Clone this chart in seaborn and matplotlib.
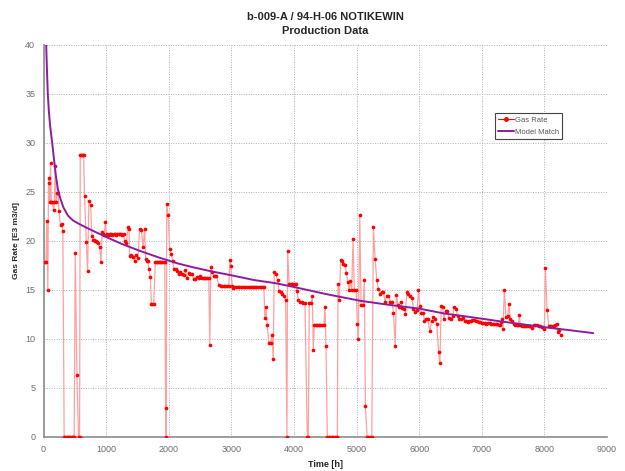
import matplotlib
matplotlib.use("Agg")
import matplotlib.pyplot as plt
from matplotlib.lines import Line2D
import seaborn as sns
import pandas as pd

# ---- data ----
time_h = [16, 40, 53, 69, 80, 90, 100, 112, 125, 140, 160, 175, 187, 203, 219, 235, 245, 272, 293, 309,
          330, 350, 370, 390, 410, 430, 450, 470, 490, 507, 533, 560, 576, 587, 600, 613, 627, 640,
          656, 683, 704, 725, 752, 773, 790, 805, 820, 832, 850, 869, 896, 917, 939, 955, 971, 987, 1003,
          1020, 1040, 1060, 1080, 1100, 1120, 1140, 1160, 1180, 1200, 1220, 1240, 1260, 1280,
          1296, 1323, 1349, 1365, 1376, 1403, 1429, 1456, 1483, 1509, 1536, 1563, 1589, 1616, 1632,
          1653, 1669, 1685, 1707, 1723, 1740, 1760, 1787, 1805, 1820, 1840, 1860, 1880, 1900, 1920, 1936,
          1950, 1960, 1968, 1989, 2016, 2037, 2064, 2085, 2112, 2139, 2160, 2187, 2213, 2240, 2267,
          2293, 2320, 2347, 2373, 2400, 2427, 2453, 2480, 2507, 2533, 2560, 2585, 2610, 2640, 2656,
          2672, 2699, 2725, 2745, 2763, 2800, 2832, 2855, 2880, 2905, 2930, 2960, 2976, 2992, 3013, 3029,
          3050, 3075, 3100, 3125, 3150, 3175, 3200, 3225, 3250, 3275, 3300, 3325, 3350, 3375, 3400,
          3425, 3450, 3475, 3500, 3520, 3536, 3552, 3573, 3600, 3627, 3648, 3669, 3685, 3712, 3739,
          3760, 3787, 3813, 3840, 3867, 3888, 3899, 3925, 3952, 3970, 3990, 4010, 4032, 4048, 4069,
          4096, 4123, 4149, 4176, 4213, 4229, 4245, 4272, 4293, 4309, 4325, 4345, 4370, 4395, 4420,
          4445, 4480, 4496, 4512, 4533, 4555, 4580, 4605, 4630, 4655, 4680, 4693, 4704, 4725, 4747,
          4768, 4789, 4816, 4837, 4859, 4880, 4901, 4923, 4944, 4965, 4992, 5013, 5029, 5051, 5072,
          5104, 5125, 5141, 5168, 5190, 5215, 5243, 5269, 5296, 5323, 5349, 5376, 5403, 5429, 5456,
          5483, 5509, 5536, 5563, 5589, 5616, 5637, 5659, 5680, 5707, 5733, 5760, 5781, 5803, 5829,
          5856, 5883, 5909, 5936, 5968, 5989, 6011, 6037, 6064, 6085, 6112, 6139, 6171, 6197, 6224,
          6256, 6283, 6309, 6331, 6352, 6373, 6395, 6421, 6448, 6475, 6507, 6533, 6560, 6587, 6613,
          6640, 6672, 6699, 6725, 6750, 6775, 6800, 6825, 6850, 6875, 6900, 6925, 6950, 6975, 7000,
          7025, 7050, 7075, 7100, 7125, 7150, 7175, 7200, 7225, 7250, 7270, 7290, 7310, 7323, 7339,
          7360, 7387, 7413, 7435, 7456, 7483, 7509, 7536, 7563, 7585, 7600, 7616, 7640, 7669, 7695,
          7723, 7750, 7776, 7803, 7829, 7855, 7883, 7910, 7936, 7960, 7979, 8000, 8016, 8043, 8069,
          8090, 8107, 8130, 8149, 8176, 8197, 8213, 8235, 8267]

gas_rate = [17.9, 17.9, 22.0, 15.0, 25.9, 26.4, 24.0, 28.0, 24.0, 24.0, 23.2, 24.0, 27.7, 24.0, 24.9, 24.9, 23.1, 21.6, 21.7, 21.0,
            0, 0, 0, 0, 0, 0, 0, 0, 0, 18.8, 6.3, 0, 0, 28.8, 28.8, 28.8, 28.8, 28.8,
            24.6, 19.9, 16.9, 24.1, 23.7, 20.5, 20.1, 20.1, 20.0, 20.0, 19.9, 19.8, 19.4, 17.9, 20.9, 20.7, 20.6, 21.9, 20.6,
            20.7, 20.6, 20.7, 20.7, 20.6, 20.7, 20.7, 20.6, 20.7, 20.7, 20.7, 20.7, 20.6, 20.7,
            20.0, 19.8, 21.4, 21.2, 18.5, 18.6, 18.4, 18.0, 18.6, 18.3, 21.2, 21.1, 19.4, 21.2, 18.2,
            18.0, 18.0, 17.1, 16.3, 13.6, 13.6, 13.6, 17.9, 17.9, 17.9, 17.9, 17.9, 17.9, 17.9, 17.9, 17.9,
            3.0, 0, 23.8, 22.7, 19.2, 18.7, 18.0, 17.1, 17.1, 16.9, 16.6, 16.8, 16.6, 16.5, 17.0,
            16.2, 16.7, 16.6, 16.6, 16.1, 16.1, 16.3, 16.2, 16.4, 16.2, 16.2, 16.2, 16.2, 16.2, 9.4,
            17.3, 16.8, 16.4, 16.4, 16.4, 15.5, 15.4, 15.4, 15.4, 15.4, 15.4, 15.4, 18.1, 17.4, 15.4, 15.2,
            15.3, 15.3, 15.3, 15.3, 15.3, 15.3, 15.3, 15.3, 15.3, 15.3, 15.3, 15.3, 15.3, 15.3, 15.3,
            15.3, 15.3, 15.3, 15.3, 15.3, 12.1, 13.3, 11.4, 9.6, 9.6, 10.4, 8.0, 16.8, 16.6, 16.0,
            14.9, 14.8, 14.6, 14.4, 14.0, 0, 19.0, 15.6, 15.6, 15.6, 15.6, 15.6, 15.6, 14.9, 14.0,
            13.8, 13.8, 13.7, 13.7, 0, 0, 13.7, 13.7, 14.4, 8.9, 11.4, 11.4, 11.4, 11.4, 11.4,
            11.4, 11.4, 13.3, 9.3, 0, 0, 0, 0, 0, 0, 0, 0, 15.6, 14.0, 18.1,
            18.0, 17.7, 17.6, 16.7, 15.8, 15.0, 15.9, 15.0, 20.2, 15.0, 15.0, 11.5, 10.0, 22.7, 13.5,
            13.5, 16.0, 3.2, 0, 0, 0, 0, 21.4, 18.2, 16.0, 15.1, 14.6, 14.8, 14.8, 13.8,
            14.4, 14.4, 13.8, 13.8, 12.7, 9.3, 14.5, 13.5, 13.3, 13.8, 13.2, 13.1, 12.6, 14.8, 14.6,
            14.4, 14.2, 13.1, 12.8, 13.0, 15.0, 13.4, 12.7, 12.7, 11.8, 12.0, 12.0, 10.8, 11.8, 12.2,
            12.0, 11.5, 8.7, 7.6, 13.4, 13.3, 12.0, 12.9, 12.9, 12.1, 12.0, 12.3, 13.3, 13.1, 12.3,
            12.0, 12.0, 12.1, 11.8, 11.8, 11.7, 11.8, 11.8, 11.9, 11.9, 11.8, 11.8, 11.7, 11.7, 11.6,
            11.6, 11.6, 11.5, 11.6, 11.6, 11.5, 11.5, 11.5, 11.5, 11.5, 11.4, 11.4, 11.7, 12.0, 11.0,
            15.0, 12.2, 12.3, 13.6, 12.0, 11.8, 11.5, 11.4, 11.4, 11.4, 12.4, 11.4, 11.3, 11.3, 11.3,
            11.3, 11.3, 11.3, 11.1, 11.4, 11.4, 11.4, 11.3, 11.3, 11.2, 11.2, 11.0, 17.2, 13.0, 11.3,
            11.3, 11.3, 11.3, 11.3, 11.4, 11.5, 10.7, 10.9, 10.4]

model_time_h = [10, 25, 43, 55, 69, 85, 105, 139, 165, 195, 229, 270, 320, 389, 470, 580, 736, 870,
                1003, 1250, 1536, 1850, 2149, 2400, 2683, 3000, 3376, 3700, 4005, 4500, 5056, 5500,
                6000, 6400, 6747, 7296, 7650, 8000, 8400, 8779]
model_rate = [48.0, 43.0, 40.0, 37.5, 35.0, 33.3, 31.8, 30.0, 28.5, 26.8, 25.3, 24.3, 23.4, 22.6, 22.1,
              21.7, 21.2, 20.8, 20.4, 19.7, 19.0, 18.3, 17.7, 17.3, 16.9, 16.5, 16.0, 15.7, 15.3, 14.6,
              13.9, 13.5, 13.1, 12.6, 12.3, 11.8, 11.5, 11.2, 10.9, 10.6]

title_lines = ["b-009-A / 94-H-06 NOTIKEWIN", "Production Data"]
x_ticks = [0, 1000, 2000, 3000, 4000, 5000, 6000, 7000, 8000, 9000]
y_ticks = [0, 5, 10, 15, 20, 25, 30, 35, 40]

gas_df = pd.DataFrame({"t": time_h, "q": gas_rate})
model_df = pd.DataFrame({"t": model_time_h, "q": model_rate})

sns.set_style("white")
plt.rcParams["font.family"] = ["Liberation Sans", "DejaVu Sans"]

fig = plt.figure(figsize=(6.25, 4.71), dpi=100)
ax = fig.add_axes([0.0696, 0.0722, 0.9016, 0.8323])

red = "#ff0000"
purple = "#8e1d9e"
sns.lineplot(data=gas_df, x="t", y="q", ax=ax, sort=False, estimator=None,
             color="#ffa0a0", linewidth=0.9, zorder=3)
sns.scatterplot(data=gas_df, x="t", y="q", ax=ax, color=red, s=7, linewidth=0,
                zorder=4)
sns.lineplot(data=model_df, x="t", y="q", ax=ax, sort=False, estimator=None,
             color=purple, linewidth=1.4, zorder=5)

ax.set_xlim(0, 9000)
ax.set_ylim(0, 40)
ax.set_xticks(x_ticks)
ax.set_yticks(y_ticks)
ax.grid(True, linestyle=(0, (1, 1.5)), color="#b0b0b0", linewidth=0.7)
ax.set_axisbelow(True)
for s in ["top", "right"]:
    ax.spines[s].set_visible(False)
for s in ["left", "bottom"]:
    ax.spines[s].set_color("#8c8c8c")
    ax.spines[s].set_linewidth(1.2)
ax.tick_params(axis="both", direction="out", length=3, width=0.8, color="#8c8c8c",
               labelcolor="#6e6e6e", labelsize=6.5, pad=3)

ax.set_xlabel("Time [h]", fontsize=6.5, fontweight="bold", labelpad=4)
ax.set_ylabel("Gas Rate [E3 m3/d]", fontsize=6, fontweight="bold", labelpad=4)

fig.text(0.52, 0.963, title_lines[0], ha="center", va="center", fontsize=8, fontweight="bold")
fig.text(0.52, 0.935, title_lines[1], ha="center", va="center", fontsize=8, fontweight="bold")

handles = [Line2D([0], [0], color=red, lw=0.8, marker="o", markersize=2.5),
           Line2D([0], [0], color=purple, lw=1.4)]
leg = ax.legend(handles, ["Gas Rate", "Model Match"], loc="upper left",
                bbox_to_anchor=(0.802, 0.826), fontsize=5.5, frameon=True, fancybox=False,
                edgecolor="#444444", framealpha=1, handlelength=2.0, handletextpad=0.2,
                borderpad=0.4, labelspacing=0.6, borderaxespad=0)
leg.get_frame().set_linewidth(0.8)
for t in leg.get_texts():
    t.set_color("#555555")

fig.savefig("out.png", dpi=100)
